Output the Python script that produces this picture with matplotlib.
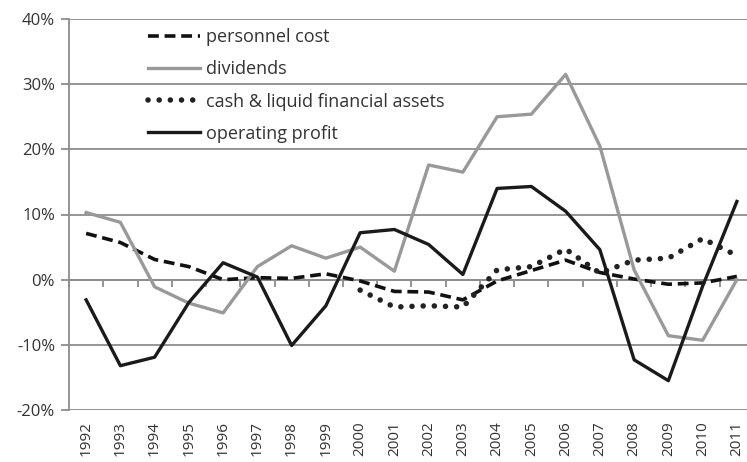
import numpy as np
import matplotlib
matplotlib.use("Agg")
import matplotlib.pyplot as plt

# ---- data (annual change, %) ----
years = [str(y) for y in range(1992, 2012)]
personnel_cost = [7.1, 5.7, 3.1, 2.0, 0.0, 0.3, 0.2, 0.9, -0.2, -1.8,
                  -1.9, -3.1, -0.2, 1.4, 3.0, 1.1, 0.1, -0.7, -0.5, 0.5]
dividends = [10.3, 8.8, -1.1, -3.6, -5.1, 2.0, 5.2, 3.3, 5.0, 1.3,
             17.6, 16.5, 25.0, 25.4, 31.5, 20.5, 1.5, -8.6, -9.3, 0.0]
cash_liquid = [np.nan] * 8 + [-1.6, -4.2, -4.0, -4.2, 1.5, 2.0, 4.7,
                              1.0, 3.0, 3.3, 6.3, 3.7]
operating_profit = [-3.1, -13.2, -11.9, -3.5, 2.6, 0.4, -10.1, -4.0, 7.2, 7.7,
                    5.4, 0.8, 14.0, 14.3, 10.5, 4.6, -12.3, -15.5, -1.0, 12.0]

yticks = [-20, -10, 0, 10, 20, 30, 40]

plt.rcParams['font.family'] = ['Open Sans', 'DejaVu Sans']
grid_col = '#8c8c8c'
text_col = '#333333'

fig = plt.figure(figsize=(7.47, 4.62), dpi=100)
ax = fig.add_axes([69 / 747, 1 - 410 / 462, 685 / 747, 391 / 462])

x = np.arange(len(years))
ax.plot(x, personnel_cost, color='#111111', lw=2.6, ls=(0, (3, 1.6)),
        label='personnel cost')
ax.plot(x, dividends, color='#999999', lw=2.4, label='dividends')
ax.plot(x, cash_liquid, color='#222222', lw=4.0, ls=(0, (0.01, 2.0)),
        dash_capstyle='round', label='cash & liquid financial assets')
ax.plot(x, operating_profit, color='#1a1a1a', lw=2.4, label='operating profit')

ax.set_xlim(-0.5, len(years) - 0.5)
ax.set_ylim(-20, 40)
ax.set_yticks(yticks)
ax.set_yticklabels([f"{v}%" for v in yticks])
ax.yaxis.grid(True, color=grid_col, lw=1.3)
ax.set_axisbelow(True)

for s in ['top', 'right', 'bottom']:
    ax.spines[s].set_visible(False)
ax.spines['left'].set_color(grid_col)
ax.spines['left'].set_linewidth(1.3)

ax.tick_params(axis='y', colors=grid_col, length=6, width=1.3,
               labelsize=12, labelcolor=text_col, pad=4)
ax.set_xticks(x)
ax.set_xticklabels(years, rotation=90)
ax.tick_params(axis='x', length=0, labelsize=11, labelcolor=text_col, pad=8)

# category axis crossing at 0% with tick marks between categories
sec = ax.secondary_xaxis(20 / 60)
sec.set_xticks(np.arange(-0.5, len(years), 1.0))
sec.set_xticklabels([])
sec.tick_params(axis='x', direction='out', length=5, width=1.3, colors=grid_col)
sec.spines['bottom'].set_color(grid_col)
sec.spines['bottom'].set_linewidth(1.3)

leg = ax.legend(loc='upper left', bbox_to_anchor=(0.115, 0.976), frameon=False,
                fontsize=13, handlelength=2.9, handletextpad=0.3,
                labelspacing=0.78, borderpad=0, borderaxespad=0)
for t in leg.get_texts():
    t.set_color(text_col)

fig.savefig('out.png', dpi=100)
